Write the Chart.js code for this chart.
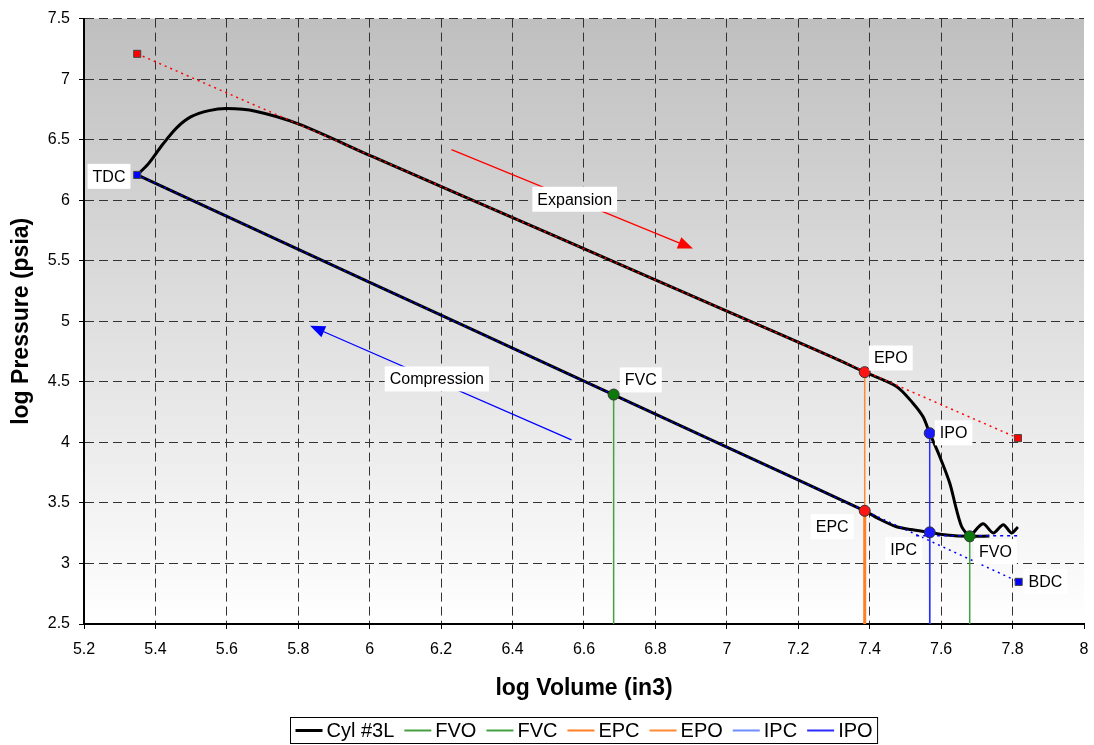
<!DOCTYPE html>
<html lang="en">
<head>
    <meta charset="UTF-8">
    <title>Cyl #3L log P - log V</title>
    <script src="https://cdn.jsdelivr.net/npm/chart.js"></script>
    <style>
        html, body { margin: 0; padding: 0; background: #fff; }
        #chartContainer { width: 1094px; height: 745px; }
    </style>
</head>
<body>
    <div id="chartContainer">
        <canvas id="logPVChart" width="1094" height="745"></canvas>
    </div>
    <script>
        // Cyl #3L trace (log volume / log pressure)
        const expansionVolume   = [5.349, 5.380, 5.420, 5.460, 5.500, 5.550, 5.600, 5.680, 5.800, 6.010, 6.500, 7.000, 7.300, 7.386, 7.475, 7.521, 7.549, 7.568, 7.596, 7.624, 7.643, 7.657, 7.671, 7.680, 7.717, 7.746, 7.774, 7.797, 7.815];
        const expansionPressure = [6.209, 6.300, 6.460, 6.600, 6.690, 6.740, 6.757, 6.735, 6.630, 6.357, 5.728, 5.084, 4.698, 4.580, 4.462, 4.324, 4.213, 4.076, 3.883, 3.664, 3.444, 3.307, 3.246, 3.224, 3.328, 3.252, 3.320, 3.252, 3.301];
        const compressionVolume   = [5.349, 5.500, 6.000, 6.500, 7.000, 7.386, 7.428, 7.475, 7.515, 7.568, 7.615, 7.680, 7.735];
        const compressionPressure = [6.209, 6.003, 5.322, 4.642, 3.961, 3.435, 3.365, 3.303, 3.280, 3.257, 3.236, 3.224, 3.226];

        // valve events
        const eventNames    = ['FVO', 'FVC', 'EPC', 'EPO', 'IPC', 'IPO'];
        const eventVolume   = [7.680, 6.683, 7.386, 7.386, 7.568, 7.568];
        const eventPressure = [3.224, 4.395, 3.435, 4.580, 3.257, 4.076];

        // reference lines
        const expRefVolume    = [5.349, 7.815];
        const expRefPressure  = [7.209, 4.035];
        const compRefVolume   = [5.349, 7.817];   // TDC -> BDC
        const compRefPressure = [6.209, 2.848];
        const bdcRefVolume    = [7.530, 7.817];
        const bdcRefPressure  = [3.228, 3.228];

        // arrows: [volume, pressure] from -> to
        const expansionArrow   = [[6.229, 6.418], [6.905, 5.601]];
        const compressionArrow = [[6.565, 4.021], [5.833, 4.963]];

        // text boxes: text, volume, pressure of the box centre
        const noteText     = ['TDC', 'BDC', 'EPO', 'IPO', 'EPC', 'IPC', 'FVO', 'FVC', 'Expansion', 'Compression'];
        const noteVolume   = [5.270, 7.892, 7.459, 7.635, 7.295, 7.495, 7.752, 6.759, 6.574, 6.188];
        const notePressure = [6.197, 2.850, 4.697, 4.079, 3.304, 3.114, 3.098, 4.516, 6.008, 4.524];

        const xTicks = [5.2, 5.4, 5.6, 5.8, 6, 6.2, 6.4, 6.6, 6.8, 7, 7.2, 7.4, 7.6, 7.8, 8];
        const yTicks = [2.5, 3, 3.5, 4, 4.5, 5, 5.5, 6, 6.5, 7, 7.5];

        const FONT = '"Liberation Sans", Arial, sans-serif';
        const toPoints = (xs, ys) => xs.map((x, i) => ({ x: x, y: ys[i] }));
        const dropLine = i => [{ x: eventVolume[i], y: 2.5 }, { x: eventVolume[i], y: eventPressure[i] }];

        const eventLineColors = ['#44a043', '#44a043', '#ff7f27', '#ff8a33', '#6f8cff', '#2b2bff'];
        const eventLineWidths = [1.5, 1.5, 3, 1.5, 1.5, 1.5];
        const eventMarkerColors = ['#0b7a0b', '#0b7a0b', '#ff1414', '#ff1414', '#1a1aff', '#1a1aff'];

        const datasets = [
            {
                label: 'Cyl #3L',
                data: toPoints(expansionVolume, expansionPressure),
                showLine: true, borderColor: '#000', borderWidth: 3, pointRadius: 0,
                tension: 0.3, order: 5
            }
        ];
        eventNames.forEach((name, i) => {
            datasets.push({
                label: name,
                data: dropLine(i),
                showLine: true,
                borderColor: eventLineColors[i],
                borderWidth: eventLineWidths[i],
                pointRadius: 0,
                order: name === 'IPO' ? 1 : 2
            });
        });
        const legendCount = datasets.length;

        datasets.push(
            {
                label: 'compression',
                data: toPoints(compressionVolume, compressionPressure),
                showLine: true, borderColor: '#000', borderWidth: 3, pointRadius: 0,
                tension: 0.25, order: 5
            },
            {
                label: 'expansion ref',
                data: toPoints(expRefVolume, expRefPressure),
                showLine: true, borderColor: '#ff0000', borderWidth: 1.5, borderDash: [2, 4],
                pointStyle: 'rect', pointRadius: 5, pointBackgroundColor: '#ff0000',
                pointBorderColor: '#444', pointBorderWidth: 1, order: 3
            },
            {
                label: 'compression ref',
                data: toPoints(compRefVolume, compRefPressure),
                showLine: true, borderColor: '#0000ff', borderWidth: 1.5, borderDash: [2, 4],
                pointStyle: 'rect', pointRadius: 5, pointBackgroundColor: '#0000ff',
                pointBorderColor: '#444', pointBorderWidth: 1, order: 3
            },
            {
                label: 'bdc ref',
                data: toPoints(bdcRefVolume, bdcRefPressure),
                showLine: true, borderColor: '#0000ff', borderWidth: 1.5, borderDash: [3, 4],
                pointRadius: 0, order: 3
            },
            {
                label: 'events',
                data: toPoints(eventVolume, eventPressure),
                showLine: false, pointRadius: 5.5,
                pointBackgroundColor: eventMarkerColors,
                pointBorderColor: '#333', pointBorderWidth: 1, order: 0
            }
        );

        const plotBackground = {
            id: 'plotBackground',
            beforeDraw(chart) {
                const { ctx, chartArea: a } = chart;
                ctx.save();
                ctx.fillStyle = '#fff';
                ctx.fillRect(0, 0, chart.width, chart.height);
                const g = ctx.createLinearGradient(0, a.top, 0, a.bottom);
                g.addColorStop(0, '#bfbfbf');
                g.addColorStop(1, '#ffffff');
                ctx.fillStyle = g;
                ctx.fillRect(a.left, a.top, a.right - a.left, a.bottom - a.top);
                ctx.restore();
            }
        };

        function drawArrow(chart, arrow, color) {
            const { ctx, scales: { x, y } } = chart;
            const x0 = x.getPixelForValue(arrow[0][0]), y0 = y.getPixelForValue(arrow[0][1]);
            const x1 = x.getPixelForValue(arrow[1][0]), y1 = y.getPixelForValue(arrow[1][1]);
            const ang = Math.atan2(y1 - y0, x1 - x0);
            const head = 15, half = 6;
            ctx.strokeStyle = color;
            ctx.fillStyle = color;
            ctx.lineWidth = 1.3;
            ctx.beginPath();
            ctx.moveTo(x0, y0);
            ctx.lineTo(x1 - Math.cos(ang) * head, y1 - Math.sin(ang) * head);
            ctx.stroke();
            ctx.beginPath();
            ctx.moveTo(x1, y1);
            ctx.lineTo(x1 - Math.cos(ang) * head - Math.sin(ang) * half, y1 - Math.sin(ang) * head + Math.cos(ang) * half);
            ctx.lineTo(x1 - Math.cos(ang) * head + Math.sin(ang) * half, y1 - Math.sin(ang) * head - Math.cos(ang) * half);
            ctx.closePath();
            ctx.fill();
        }

        const notes = {
            id: 'notes',
            afterDatasetsDraw(chart) {
                const { ctx, scales: { x, y } } = chart;
                ctx.save();
                drawArrow(chart, expansionArrow, '#ff0000');
                drawArrow(chart, compressionArrow, '#0000ff');
                ctx.font = '16px ' + FONT;
                ctx.textAlign = 'center';
                ctx.textBaseline = 'middle';
                noteText.forEach((t, i) => {
                    const px = x.getPixelForValue(noteVolume[i]);
                    const py = y.getPixelForValue(notePressure[i]);
                    const w = ctx.measureText(t).width + 10;
                    ctx.fillStyle = '#fff';
                    ctx.fillRect(px - w / 2, py - 12.5, w, 25);
                    ctx.fillStyle = '#000';
                    ctx.fillText(t, px, py + 1);
                });
                ctx.restore();
            }
        };

        const boxedLegend = {
            id: 'boxedLegend',
            afterDraw(chart) {
                const ctx = chart.ctx;
                const items = chart.data.datasets.slice(0, legendCount);
                const lineLen = 27, textGap = 4, itemGap = 10, padX = 5, h = 26;
                ctx.save();
                ctx.font = '20px ' + FONT;
                let total = padX * 2 - itemGap;
                items.forEach(d => { total += lineLen + textGap + ctx.measureText(d.label).width + itemGap; });
                const cx = (chart.chartArea.left + chart.chartArea.right) / 2;
                const left = Math.round(cx - total / 2) + 0.5;
                const top = chart.height - 27.5;
                ctx.strokeStyle = '#000';
                ctx.lineWidth = 1;
                ctx.strokeRect(left, top, total, h);
                let px = left + padX;
                const py = top + h / 2;
                ctx.textBaseline = 'middle';
                items.forEach((d, i) => {
                    ctx.strokeStyle = d.borderColor;
                    ctx.lineWidth = i === 0 ? 3 : 2;
                    ctx.beginPath();
                    ctx.moveTo(px, py);
                    ctx.lineTo(px + lineLen, py);
                    ctx.stroke();
                    px += lineLen + textGap;
                    ctx.fillStyle = '#000';
                    ctx.fillText(d.label, px, py + 1);
                    px += ctx.measureText(d.label).width + itemGap;
                });
                ctx.restore();
            }
        };

        const gridStyle = {
            color: ctx => (ctx.tick && ctx.tick.value === 8) ? 'rgba(0,0,0,0)' : '#333',
            lineWidth: 1,
            tickLength: 5,
            tickColor: '#000',
            tickBorderDash: [],
            tickWidth: 1
        };
        const borderStyle = { display: true, color: '#000', width: 2, dash: [9, 5] };

        new Chart(document.getElementById('logPVChart'), {
            type: 'scatter',
            data: { datasets: datasets },
            plugins: [plotBackground, notes, boxedLegend],
            options: {
                responsive: false,
                animation: false,
                layout: { padding: { top: 18, right: 10, bottom: 31, left: 0 } },
                plugins: {
                    legend: { display: false },
                    tooltip: { enabled: false }
                },
                scales: {
                    x: {
                        type: 'linear', min: 5.2, max: 8,
                        afterBuildTicks: s => { s.ticks = xTicks.map(v => ({ value: v })); },
                        afterFit: s => { s.height = 90; s.paddingRight = 0; },
                        grid: gridStyle,
                        border: borderStyle,
                        ticks: { color: '#000', padding: 11, maxRotation: 0, font: { family: FONT, size: 16 },
                                 callback: v => String(Number(v.toFixed(1))) },
                        title: { display: true, text: 'log Volume (in3)', color: '#000',
                                 font: { family: FONT, size: 23, weight: 'bold' }, padding: { bottom: 12 } }
                    },
                    y: {
                        type: 'linear', min: 2.5, max: 7.5,
                        afterBuildTicks: s => { s.ticks = yTicks.map(v => ({ value: v })); },
                        afterFit: s => { s.width = 84; },
                        grid: gridStyle,
                        border: borderStyle,
                        ticks: { color: '#000', padding: 9, font: { family: FONT, size: 16 },
                                 callback: v => String(Number(v.toFixed(1))) },
                        title: { display: true, text: 'log Pressure (psia)', color: '#000',
                                 font: { family: FONT, size: 23, weight: 'bold' }, padding: { top: 8 } }
                    }
                }
            }
        });
    </script>
</body>
</html>
